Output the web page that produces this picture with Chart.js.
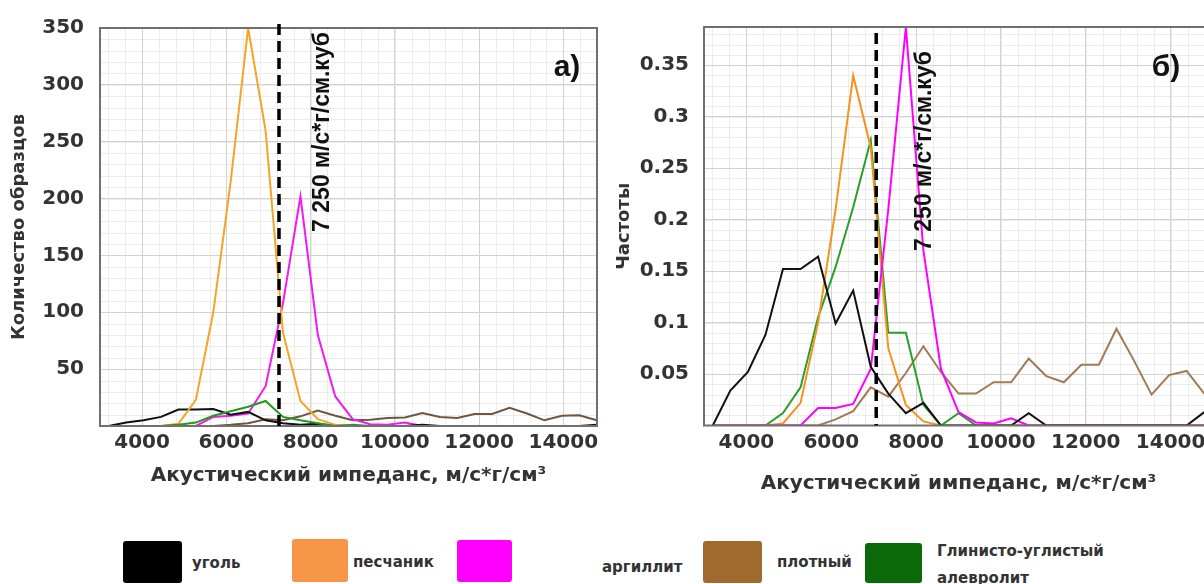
<!DOCTYPE html>
<html><head><meta charset="utf-8">
<script src="https://cdn.jsdelivr.net/npm/chart.js@4.4.1/dist/chart.umd.min.js"></script>
<style>
html,body{margin:0;padding:0;width:1204px;height:584px;overflow:hidden;background:#fff;position:relative;}
#c1{position:absolute;left:0;top:0;}
#c2{position:absolute;left:600px;top:0;}
.box{position:absolute;border-radius:3px;}
.lt{position:absolute;font:bold 15px "DejaVu Sans",sans-serif;color:#333;white-space:nowrap;transform:translateY(-50%);}
</style></head><body>
<canvas id="c1" width="610" height="500"></canvas>
<canvas id="c2" width="620" height="500"></canvas>
<div id="legend"></div>
<script>
// ---- data ----
const binCenters = [3207,3621,4034,4448,4862,5276,5690,6103,6517,6931,7345,7759,8172,8586,9000,9414,9828,10241,10655,11069,11483,11897,12310,12724,13138,13552,13966,14379,14793];
const seriesNames = ['уголь','песчаник','аргиллит','плотный','Глинисто-углистый алевролит'];
// counts (panel a)
const countCoal      = [0,3,5,8,14.5,14.5,15,10,12.4,5,2.5,1,2,0,0,0,0,0,1,0,0,0,0,0,0,0,0,0,1];
const countSandstone = [0,0,0,0,2,23,100,215,350,260,82,22,6,1,0,0,0,0,0,0,0,0,0,0,0,0,0,0,0];
const countArgillite = [0,0,0,0,0,0,8,9,11,35,108,202,80,26,6,1.5,1,3,0,0,0,0,0,0,0,0,0,0,0];
const countDense     = [0,0,0,0,0,0,0,1,2.5,6,5,8.5,13.5,9,5,5.5,7,7.5,11.5,8,7,10.5,10.5,16,11,5,9,9.5,5];
const countSiltstone = [0,0,0,0,1,3,9,13,17,22,8,5,2.5,0,1,0,0,0,0,0,0,0,0,0,0,0,0,0,0];
// frequencies (panel б)
const freqCoal      = [0,0.034,0.052,0.088,0.152,0.152,0.164,0.099,0.131,0.057,0.031,0.012,0.022,0,0,0,0,0,0.012,0,0,0,0,0,0,0,0,0,0.013];
const freqSandstone = [0,0,0,0,0.002,0.022,0.1,0.21,0.34,0.27,0.075,0.02,0.004,0,0,0,0,0,0,0,0,0,0,0,0,0,0,0,0];
const freqArgillite = [0,0,0,0,0,0,0.017,0.017,0.021,0.055,0.21,0.387,0.17,0.055,0.013,0.003,0.002,0.007,0,0,0,0,0,0,0,0,0,0,0];
const freqDense     = [0,0,0,0,0,0,0,0.006,0.014,0.037,0.028,0.051,0.077,0.052,0.031,0.031,0.042,0.042,0.065,0.048,0.042,0.059,0.059,0.094,0.063,0.030,0.049,0.053,0.031];
const freqSiltstone = [0,0,0,0,0.012,0.037,0.105,0.154,0.212,0.277,0.09,0.09,0.02,0,0.012,0,0,0,0,0,0,0,0,0,0,0,0,0,0];
// ticks / labels
const xTicks = [4000,6000,8000,10000,12000,14000];
const yTicksCount = [0,50,100,150,200,250,300,350];
const yTicksFreq = [0,0.05,0.1,0.15,0.2,0.25,0.3,0.35];
const cutoffValueA = 7250;
const cutoffValueB = 7060;
const cutoffLabel = '7 250 м/с*г/см.куб';
const panelLabels = ['а)','б)'];
const xTitle = 'Акустический импеданс, м/с*г/см³';
const yTitleCount = 'Количество образцов';
const yTitleFreq = 'Частоты';

// ---- styles ----
const FONT = "'DejaVu Sans', sans-serif";
Chart.defaults.font.family = FONT;
const colorsA = ['#111111','#f4a428','#ee1cee','#6e5641','#1f9a1f'];
const colorsB = ['#111111','#f7921e','#ff00ff','#a07b55','#27a027'];
const legendColors = ['#000000','#f79646','#ff00ff','#a0692e','#0a6a0a'];

const overlay = {
  id: 'overlay',
  beforeDraw(chart, args, o) {
    const {ctx, chartArea: a, scales: {x, y}} = chart;
    ctx.save();
    ctx.fillStyle = '#fff';
    ctx.fillRect(0, 0, chart.width, chart.height);
    ctx.strokeStyle = '#ececec';
    ctx.lineWidth = 1;
    ctx.beginPath();
    for (let v = x.min - (x.min % o.xMinor) ; v <= x.max; v += o.xMinor) {
      if (v <= x.min) continue;
      const p = Math.round(x.getPixelForValue(v)) + 0.5;
      ctx.moveTo(p, a.top); ctx.lineTo(p, a.bottom);
    }
    for (let v = o.yMinor; v < y.max; v += o.yMinor) {
      const p = Math.round(y.getPixelForValue(v)) + 0.5;
      ctx.moveTo(a.left, p); ctx.lineTo(a.right, p);
    }
    ctx.stroke();
    ctx.restore();
  },
  afterDatasetsDraw(chart, args, o) {
    const {ctx, chartArea: a, scales: {x}} = chart;
    ctx.save();
    ctx.strokeStyle = '#707070';
    ctx.lineWidth = 2;
    ctx.strokeRect(a.left, a.top, a.right - a.left, a.bottom - a.top);
    const px = x.getPixelForValue(o.cutoff);
    ctx.setLineDash([11, 6]);
    ctx.lineWidth = 3.5;
    ctx.strokeStyle = '#000';
    ctx.beginPath();
    ctx.moveTo(px, a.top + o.dashTop);
    ctx.lineTo(px, a.bottom);
    ctx.stroke();
    ctx.setLineDash([]);
    ctx.fillStyle = '#111';
    ctx.font = 'bold 23px "Liberation Sans", Arial, sans-serif';
    ctx.textAlign = 'center';
    ctx.textBaseline = 'middle';
    ctx.save();
    ctx.translate(px + o.labelDx, o.labelY);
    ctx.rotate(-Math.PI / 2);
    ctx.fillText(cutoffLabel, 0, 0);
    ctx.restore();
    ctx.font = 'bold 30px "Liberation Sans", Arial, sans-serif';
    ctx.fillText(o.panel, o.panelX, o.panelY);
    if (o.sepX) {
      ctx.strokeStyle = '#8a8a8a';
      ctx.lineWidth = 2;
      ctx.beginPath();
      ctx.moveTo(o.sepX, 18); ctx.lineTo(o.sepX, 428);
      ctx.stroke();
    }
    ctx.restore();
  }
};

function buildDatasets(values, colors, orders) {
  return values.map((vals, i) => ({
    label: seriesNames[i],
    data: binCenters.map((xv, j) => ({x: xv, y: vals[j]})),
    borderColor: colors[i],
    backgroundColor: colors[i],
    borderWidth: 2,
    pointRadius: 0,
    tension: 0,
    fill: false,
    order: orders[i]
  }));
}

function makeChart(id, cfg) {
  return new Chart(document.getElementById(id), {
    type: 'line',
    data: {datasets: buildDatasets(cfg.values, cfg.colors, cfg.orders)},
    plugins: [overlay],
    options: {
      responsive: false,
      animation: false,
      devicePixelRatio: 1,
      layout: {padding: cfg.padding},
      plugins: {legend: {display: false}, tooltip: {enabled: false}, overlay: cfg.overlay},
      scales: {
        x: {
          type: 'linear', min: 3000, max: cfg.xMax,
          afterBuildTicks: s => { s.ticks = xTicks.map(v => ({value: v})); },
          afterFit: s => { s.height = cfg.xAxisH; },
          ticks: {font: {size: 20, weight: 'bold'}, color: '#333', padding: 5, maxRotation: 0, autoSkip: false, callback: v => String(v)},
          grid: {color: '#d2d2d2', drawTicks: false},
          border: {display: false},
          title: {display: true, text: xTitle, color: '#333', font: {size: 20, weight: 'bold'}, padding: {top: 0, bottom: cfg.xTitlePb}}
        },
        y: {
          type: 'linear', min: 0, max: cfg.yMax,
          afterBuildTicks: s => { s.ticks = cfg.yTicks.map(v => ({value: v})); },
          afterFit: s => { s.width = cfg.yAxisW; },
          ticks: {font: {size: 20, weight: 'bold'}, color: '#333', padding: cfg.yTickPad, callback: v => v === 0 ? '' : String(v)},
          grid: {color: '#d2d2d2', drawTicks: false},
          border: {display: false},
          title: {display: true, text: cfg.yTitle, color: '#333', font: {size: 18, weight: 'bold'}, padding: {top: cfg.yTitlePt, bottom: 0}}
        }
      }
    }
  });
}

makeChart('c1', {
  values: [countCoal, countSandstone, countArgillite, countDense, countSiltstone],
  colors: colorsA, orders: [3, 2, 4, 5, 1],
  padding: {top: 22, right: 13, bottom: 0, left: 0},
  xMax: 14800, yMax: 350, yTicks: yTicksCount,
  xAxisH: 74, yAxisW: 100, yTickPad: 16, xTitlePb: 12, yTitlePt: 9, yTitle: yTitleCount,
  overlay: {cutoff: cutoffValueA, dashTop: -4, labelDx: 44, labelY: 132, panel: panelLabels[0], panelX: 567, panelY: 68, xMinor: 400, yMinor: 10, sepX: 604}
});
makeChart('c2', {
  values: [freqCoal, freqSandstone, freqArgillite, freqDense, freqSiltstone],
  colors: colorsB, orders: [1, 3, 2, 5, 4],
  padding: {top: 27, right: 7, bottom: 0, left: 0},
  xMax: 15000, yMax: 0.387, yTicks: yTicksFreq,
  xAxisH: 74.5, yAxisW: 104, yTickPad: 15, xTitlePb: 4, yTitlePt: 14, yTitle: yTitleFreq,
  overlay: {cutoff: cutoffValueB, dashTop: 6, labelDx: 48, labelY: 151, panel: panelLabels[1], panelX: 566, panelY: 68, xMinor: 400, yMinor: 0.01, sepX: 0}
});

// ---- legend ----
const legendBoxes = [[123,541,59,42],[292,539,56,43],[457,540,55,42],[703,541,59,42],[865,543,57,40]];
const legendText = [[192,563],[353,562],[602,567],[777,562],[937,551]];
const leg = document.getElementById('legend');
seriesNames.forEach((name, i) => {
  const b = document.createElement('div');
  b.className = 'box';
  const [bx, by, bw, bh] = legendBoxes[i];
  Object.assign(b.style, {left: bx + 'px', top: by + 'px', width: bw + 'px', height: bh + 'px', background: legendColors[i]});
  leg.appendChild(b);
  const parts = name.split(' ');
  parts.forEach((p, k) => {
    const t = document.createElement('div');
    t.className = 'lt';
    t.textContent = p;
    t.style.left = legendText[i][0] + 'px';
    t.style.top = (legendText[i][1] + k * 27) + 'px';
    leg.appendChild(t);
  });
});
</script>
</body></html>
